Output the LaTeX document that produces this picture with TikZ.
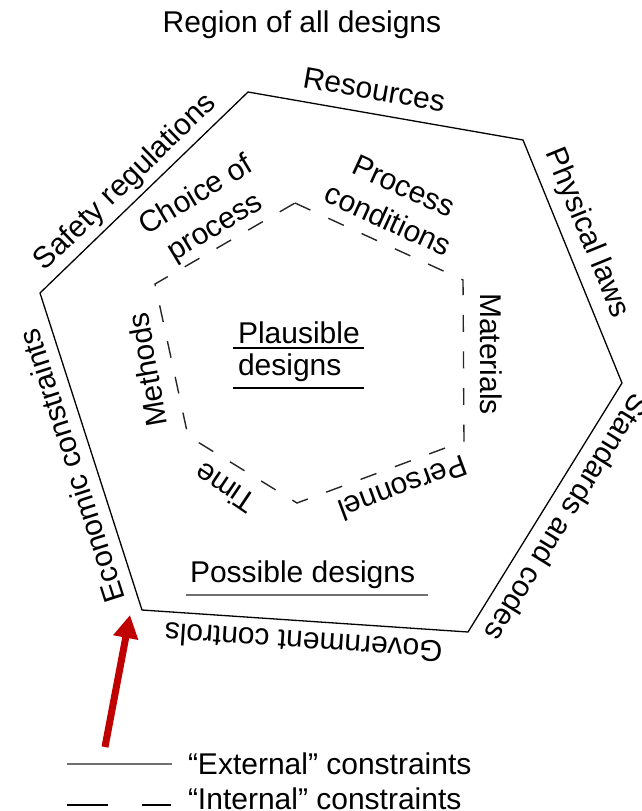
\documentclass[tikz,border=0pt]{standalone}
\usepackage{fontspec}
\setmainfont{Liberation Sans}
\usetikzlibrary{calc,arrows.meta}
\definecolor{arrowred}{HTML}{C00000}
\definecolor{legendgray}{HTML}{707070}
\begin{document}
\begin{tikzpicture}[x=1pt,y=-1pt,
  every node/.style={inner sep=0pt, outer sep=0pt, font=\fontsize{30}{37}\selectfont},
  outerhex/.style={draw=black, line width=1.3pt, line join=miter},
  innerhex/.style={draw=black!85, line width=1.4pt, dash pattern=on 17pt off 19.6pt},
  edgelabel/.style={anchor=base},
  underline/.style={draw=black, line width=1.4pt},
  grayline/.style={draw=legendgray, line width=2.6pt},
  redarrow/.style={draw=arrowred, line width=7pt, -{Triangle[length=23pt,width=24pt]}}
]
\useasboundingbox (0,0) rectangle (641,811);

% outer hexagon
\coordinate (V1) at (248,92);
\coordinate (V2) at (523,140);
\coordinate (V3) at (622,383);
\coordinate (V4) at (468,632);
\coordinate (V5) at (142,610);
\coordinate (V6) at (40,293);
\draw[outerhex] (V1) -- (V2) -- (V3) -- (V4) -- (V5) -- (V6) -- cycle;

% inner hexagon
\coordinate (I1) at (295,203);
\coordinate (I2) at (463,280);
\coordinate (I3) at (464,441);
\coordinate (I4) at (297,503);
\coordinate (I5) at (188,436);
\coordinate (I6) at (155,284);
\draw[innerhex] (I1) -- (I2) -- (I3) -- (I4) -- (I5) -- (I6) -- cycle;

% title
\node[anchor=base] (title) at (302,32) {Region of all designs};

% outer labels
\node[edgelabel, rotate=44.02] (safety) at ($(V6)!0.478!(V1)!12pt!90:(V1)$) {Safety regulations};
\node[edgelabel, rotate=-9.90] (resources) at ($(V1)!0.444!(V2)!14pt!90:(V2)$) {Resources};
\node[edgelabel, rotate=-67.83] (physical) at ($(V2)!0.42!(V3)!16pt!90:(V3)$) {Physical laws};
\node[edgelabel, rotate=-121.74] (standards) at ($(V3)!0.49!(V4)!14pt!90:(V4)$) {Standards and codes};
\node[edgelabel, rotate=176.14] (government) at ($(V4)!0.50!(V5)!11pt!90:(V5)$) {Government controls};
\node[edgelabel, rotate=107.84] (economic) at ($(V5)!0.477!(V6)!12pt!90:(V6)$) {Economic constraints};

% inner labels
\node[rotate=31, align=center] (choice) at (206,212) {Choice of\\process};
\node[rotate=-24.6, align=center] (procond) at (396,203) {Process\\conditions};
\node[rotate=-90] (materials) at (491,354) {Materials};
\node[rotate=-159.6] (personnel) at (403,488) {Personnel};
\node[rotate=146] (time) at (225,488) {Time};
\node[rotate=100] (methods) at (147,370) {Methods};

% plausible designs
\node[anchor=base west] (plaus1) at (238,343) {Plausible};
\node[anchor=base west] (plaus2) at (238,375) {designs};
\draw[underline] (233,348) -- (364,348);
\draw[underline] (233,388) -- (364,388);

% possible designs
\node[anchor=base west] (possible) at (190,582) {Possible designs};
\draw[grayline] (186,595) -- (428,595);

% red arrow
\coordinate (arrowtail) at (105,747);
\coordinate (arrowtip) at (130,615);
\draw[redarrow] (arrowtail) -- (arrowtip);

% legend
\coordinate (leg1a) at (67,764);
\coordinate (leg1b) at (172,764);
\draw[grayline] (leg1a) -- (leg1b);
\node[anchor=base west] (external) at (188,774) {“External” constraints};
\coordinate (leg2a) at (67,805);
\coordinate (leg2b) at (171,805);
\draw[draw=black, line width=1.8pt, dash pattern=on 41pt off 34pt] (leg2a) -- (leg2b);
\node[anchor=base west] (internal) at (188,809) {“Internal” constraints};
\end{tikzpicture}
\end{document}
